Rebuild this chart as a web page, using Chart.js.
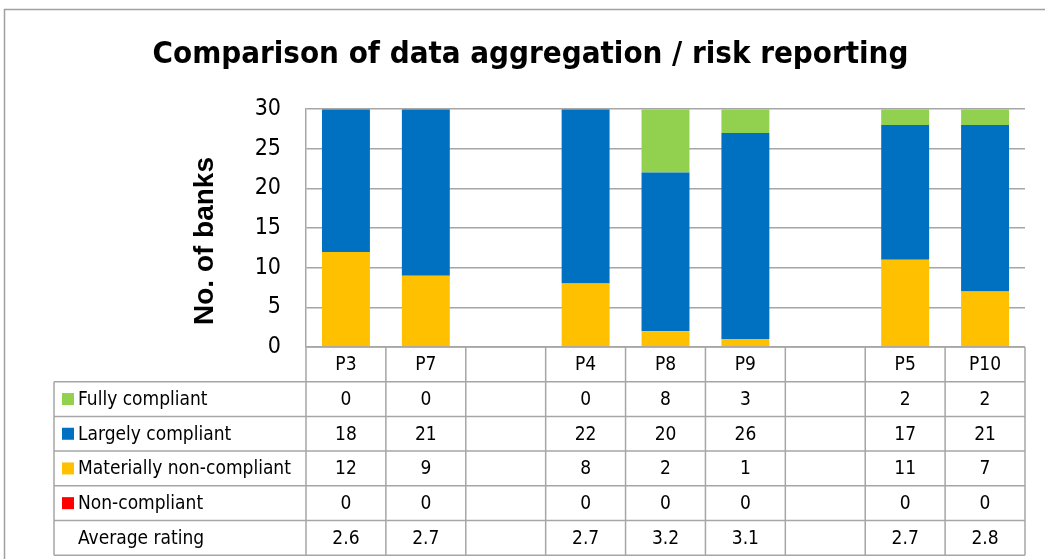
<!DOCTYPE html>
<html>
<head>
<meta charset="utf-8">
<title>Comparison of data aggregation / risk reporting</title>
<script src="https://cdn.jsdelivr.net/npm/chart.js@4.4.1/dist/chart.umd.min.js"></script>
<style>
  html, body { margin: 0; padding: 0; background: #fff; }
  #wrap { width: 1045px; height: 559px; position: relative; }
</style>
</head>
<body>
<div id="wrap"><canvas id="chart"></canvas></div>
<script>
// Kategoriler (boş sütunlar grup ayırıcı)
const categories = ['P3', 'P7', '', 'P4', 'P8', 'P9', '', 'P5', 'P10'];

// Seriler
const fullyCompliant = [0, 0, null, 0, 8, 3, null, 2, 2];
const largelyCompliant = [18, 21, null, 22, 20, 26, null, 17, 21];
const materiallyNonCompliant = [12, 9, null, 8, 2, 1, null, 11, 7];
const nonCompliant = [0, 0, null, 0, 0, 0, null, 0, 0];
const averageRating = ['2.6', '2.7', '', '2.7', '3.2', '3.1', '', '2.7', '2.8'];

const yTicks = [0, 5, 10, 15, 20, 25, 30];

const GRID = '#a6a6a6';
const NARROW = '"Liberation Sans Narrow", "DejaVu Sans Condensed", "Liberation Sans", sans-serif';

// Tablo satırları (üstten alta)
const tableRows = [
  { label: 'Fully compliant', color: '#92D050', values: fullyCompliant },
  { label: 'Largely compliant', color: '#0070C0', values: largelyCompliant },
  { label: 'Materially non-compliant', color: '#FFC000', values: materiallyNonCompliant },
  { label: 'Non-compliant', color: '#FF0000', values: nonCompliant },
  { label: 'Average rating', color: null, values: averageRating }
];

// Çerçeve, eksen başlığı ve veri tablosu
const dataTablePlugin = {
  id: 'dataTable',
  beforeDraw(chart) {
    const ctx = chart.ctx;
    ctx.save();
    ctx.fillStyle = '#fff';
    ctx.fillRect(0, 0, chart.width, chart.height);
    ctx.strokeStyle = '#a0a0a0';
    ctx.lineWidth = 1.5;
    ctx.strokeRect(4.5, 9.5, chart.width + 10, chart.height + 10);
    ctx.restore();
  },
  afterDraw(chart) {
    const ctx = chart.ctx;
    const x = chart.scales.x;
    const area = chart.chartArea;
    const colW = x.width / categories.length;
    const rowH = 34.7;
    const labelLeft = 54;
    const top = area.bottom;
    const bottom = top + rowH * (tableRows.length + 1);

    ctx.save();

    // y ekseni başlığı
    ctx.save();
    ctx.translate(205, 241);
    ctx.rotate(-Math.PI / 2);
    ctx.fillStyle = '#000';
    ctx.font = 'bold 28px "Liberation Sans", sans-serif';
    ctx.textAlign = 'center';
    ctx.textBaseline = 'middle';
    ctx.fillText('No. of banks', 0, 0);
    ctx.restore();

    ctx.strokeStyle = GRID;
    ctx.lineWidth = 1.5;

    // yatay çizgiler
    ctx.beginPath();
    ctx.moveTo(area.left, top);
    ctx.lineTo(area.right, top);
    for (let r = 1; r <= tableRows.length + 1; r++) {
      const y = top + r * rowH;
      ctx.moveTo(labelLeft, y);
      ctx.lineTo(area.right, y);
    }
    // dikey çizgiler
    for (let c = 0; c <= categories.length; c++) {
      const cx = area.left + c * colW;
      ctx.moveTo(cx, top);
      ctx.lineTo(cx, bottom);
    }
    ctx.moveTo(labelLeft, top + rowH);
    ctx.lineTo(labelLeft, bottom);
    ctx.stroke();

    ctx.fillStyle = '#000';
    ctx.font = '19px ' + NARROW;
    ctx.textAlign = 'center';
    ctx.textBaseline = 'middle';

    // başlık satırı
    categories.forEach((cat, i) => {
      ctx.fillText(cat, x.getPixelForValue(i), top + rowH / 2 + 1);
    });

    tableRows.forEach((row, r) => {
      const yMid = top + (r + 1) * rowH + rowH / 2 + 1;
      if (row.color) {
        ctx.fillStyle = row.color;
        ctx.fillRect(62, yMid - 7, 12, 12);
      }
      ctx.fillStyle = '#000';
      ctx.textAlign = 'left';
      ctx.fillText(row.label, 78, yMid);
      ctx.textAlign = 'center';
      row.values.forEach((v, i) => {
        if (v === null || v === '') return;
        ctx.fillText(String(v), x.getPixelForValue(i), yMid);
      });
    });
    ctx.restore();
  }
};

const ctx = document.getElementById('chart').getContext('2d');
new Chart(ctx, {
  type: 'bar',
  data: {
    labels: categories,
    datasets: [
      { label: 'Non-compliant', data: nonCompliant, backgroundColor: '#FF0000' },
      { label: 'Materially non-compliant', data: materiallyNonCompliant, backgroundColor: '#FFC000' },
      { label: 'Largely compliant', data: largelyCompliant, backgroundColor: '#0070C0' },
      { label: 'Fully compliant', data: fullyCompliant, backgroundColor: '#92D050' }
    ]
  },
  options: {
    responsive: true,
    maintainAspectRatio: false,
    animation: false,
    layout: { padding: { left: 36, right: 20, top: 0, bottom: 212 } },
    datasets: {
      bar: { barPercentage: 0.6, categoryPercentage: 1, borderWidth: 0 }
    },
    plugins: {
      legend: { display: false },
      tooltip: { enabled: false },
      title: {
        display: true,
        text: 'Comparison of data aggregation / risk reporting',
        color: '#000',
        font: { family: NARROW, size: 31, weight: 'bold' },
        padding: { top: 36, bottom: 36 }
      }
    },
    scales: {
      x: {
        stacked: true,
        display: false
      },
      y: {
        stacked: true,
        min: 0,
        max: 30,
        afterBuildTicks: (scale) => { scale.ticks = yTicks.map(v => ({ value: v })); },
        afterFit: (scale) => { scale.width = 270; },
        border: { display: true, color: GRID, width: 1.5 },
        grid: { color: GRID, lineWidth: 1.5, drawTicks: false },
        ticks: {
          color: '#000',
          padding: 25,
          font: { family: NARROW, size: 23 }
        }
      }
    }
  },
  plugins: [dataTablePlugin]
});
</script>
</body>
</html>
